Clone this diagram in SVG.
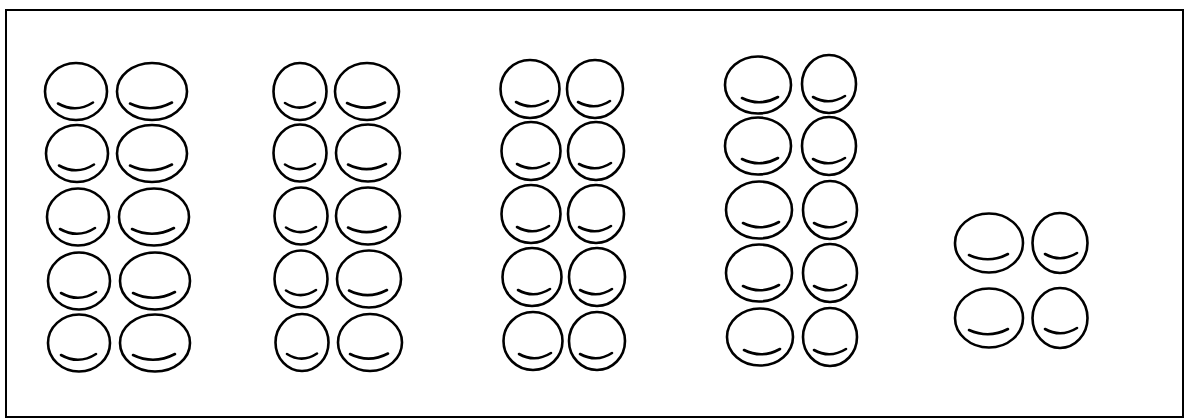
<svg xmlns="http://www.w3.org/2000/svg" width="1185" height="419" viewBox="0 0 1185 419">
<style>
.c{fill:none;stroke:#000;stroke-width:2.6}
.s{fill:none;stroke:#000;stroke-width:2.6;stroke-linecap:round}
</style>
<rect x="0" y="0" width="1185" height="419" fill="#fff"/>
<rect id="frame" x="6" y="10" width="1177" height="407" fill="none" stroke="#000" stroke-width="2"/>
<g id="cluster1">
<g id="n1-1"><ellipse class="c" cx="76" cy="91.5" rx="31" ry="28.5"/><path class="s" d="M58 103.5 Q76 113.5 93 102.5"/></g>
<g id="n1-2"><ellipse class="c" cx="77" cy="153.5" rx="31" ry="28.5"/><path class="s" d="M59 165.5 Q77 175.5 94 164.5"/></g>
<g id="n1-3"><ellipse class="c" cx="78" cy="217" rx="31" ry="28.5"/><path class="s" d="M60 229 Q78 239 95 228"/></g>
<g id="n1-4"><ellipse class="c" cx="79" cy="281" rx="31" ry="28.5"/><path class="s" d="M61 293 Q79 303 96 292"/></g>
<g id="n1-5"><ellipse class="c" cx="79" cy="343" rx="31" ry="28.5"/><path class="s" d="M61 355 Q79 365 96 354"/></g>
<g id="n1-6"><ellipse class="c" cx="152" cy="91.5" rx="35" ry="28.5"/><path class="s" d="M130 103.5 Q151 113.5 172 102.5"/></g>
<g id="n1-7"><ellipse class="c" cx="152" cy="153.5" rx="35" ry="28.5"/><path class="s" d="M130 165.5 Q151 175.5 172 164.5"/></g>
<g id="n1-8"><ellipse class="c" cx="154" cy="217" rx="35" ry="28.5"/><path class="s" d="M132 229 Q153 239 174 228"/></g>
<g id="n1-9"><ellipse class="c" cx="155" cy="281" rx="35" ry="28.5"/><path class="s" d="M133 293 Q154 303 175 292"/></g>
<g id="n1-10"><ellipse class="c" cx="155" cy="343" rx="35" ry="28.5"/><path class="s" d="M133 355 Q154 365 175 354"/></g>
</g>
<g id="cluster2">
<g id="n2-1"><ellipse class="c" cx="300" cy="91.5" rx="26.5" ry="28.5"/><path class="s" d="M285 103 Q300 112.5 315 102.5"/></g>
<g id="n2-2"><ellipse class="c" cx="300" cy="153" rx="26.5" ry="28.5"/><path class="s" d="M285 164.5 Q300 174 315 164"/></g>
<g id="n2-3"><ellipse class="c" cx="301" cy="216" rx="26.5" ry="28.5"/><path class="s" d="M286 227.5 Q301 237 316 227"/></g>
<g id="n2-4"><ellipse class="c" cx="301" cy="279" rx="26.5" ry="28.5"/><path class="s" d="M286 290.5 Q301 300 316 290"/></g>
<g id="n2-5"><ellipse class="c" cx="302" cy="342.5" rx="26.5" ry="28.5"/><path class="s" d="M287 354 Q302 363.5 317 353.5"/></g>
<g id="n2-6"><ellipse class="c" cx="367" cy="91.5" rx="32" ry="28.5"/><path class="s" d="M347 103 Q366 112.5 385 102.5"/></g>
<g id="n2-7"><ellipse class="c" cx="368" cy="153" rx="32" ry="28.5"/><path class="s" d="M348 164.5 Q367 174 386 164"/></g>
<g id="n2-8"><ellipse class="c" cx="368" cy="216" rx="32" ry="28.5"/><path class="s" d="M348 227.5 Q367 237 386 227"/></g>
<g id="n2-9"><ellipse class="c" cx="369" cy="279" rx="32" ry="28.5"/><path class="s" d="M349 290.5 Q368 300 387 290"/></g>
<g id="n2-10"><ellipse class="c" cx="370" cy="342.5" rx="32" ry="28.5"/><path class="s" d="M350 354 Q369 363.5 388 353.5"/></g>
</g>
<g id="cluster3">
<g id="n3-1"><ellipse class="c" cx="530" cy="89" rx="29.5" ry="29"/><path class="s" d="M516 102 Q532 111 548 101"/></g>
<g id="n3-2"><ellipse class="c" cx="531" cy="151" rx="29.5" ry="29"/><path class="s" d="M517 164 Q533 173 549 163"/></g>
<g id="n3-3"><ellipse class="c" cx="531" cy="214" rx="29.5" ry="29"/><path class="s" d="M517 227 Q533 236 549 226"/></g>
<g id="n3-4"><ellipse class="c" cx="532" cy="277" rx="29.5" ry="29"/><path class="s" d="M518 290 Q534 299 550 289"/></g>
<g id="n3-5"><ellipse class="c" cx="533" cy="341" rx="29.5" ry="29"/><path class="s" d="M519 354 Q535 363 551 353"/></g>
<g id="n3-6"><ellipse class="c" cx="595" cy="89" rx="28" ry="29"/><path class="s" d="M578 102 Q595 111 610 101"/></g>
<g id="n3-7"><ellipse class="c" cx="596" cy="151" rx="28" ry="29"/><path class="s" d="M579 164 Q596 173 611 163"/></g>
<g id="n3-8"><ellipse class="c" cx="596" cy="214" rx="28" ry="29"/><path class="s" d="M579 227 Q596 236 611 226"/></g>
<g id="n3-9"><ellipse class="c" cx="597" cy="277" rx="28" ry="29"/><path class="s" d="M580 290 Q597 299 612 289"/></g>
<g id="n3-10"><ellipse class="c" cx="597" cy="341" rx="28" ry="29"/><path class="s" d="M580 354 Q597 363 612 353"/></g>
</g>
<g id="cluster4">
<g id="n4-1"><ellipse class="c" cx="758" cy="85" rx="33" ry="28.5"/><path class="s" d="M742 98 Q760 107 778 97"/></g>
<g id="n4-2"><ellipse class="c" cx="758" cy="146" rx="33" ry="28.5"/><path class="s" d="M742 159 Q760 168 778 158"/></g>
<g id="n4-3"><ellipse class="c" cx="759" cy="210" rx="33" ry="28.5"/><path class="s" d="M743 223 Q761 232 779 222"/></g>
<g id="n4-4"><ellipse class="c" cx="759" cy="273" rx="33" ry="28.5"/><path class="s" d="M743 286 Q761 295 779 285"/></g>
<g id="n4-5"><ellipse class="c" cx="760" cy="337" rx="33" ry="28.5"/><path class="s" d="M744 350 Q762 359 780 349"/></g>
<g id="n4-6"><ellipse class="c" cx="829" cy="84" rx="27" ry="29"/><path class="s" d="M813 97 Q829 106 845 96"/></g>
<g id="n4-7"><ellipse class="c" cx="829" cy="146" rx="27" ry="29"/><path class="s" d="M813 159 Q829 168 845 158"/></g>
<g id="n4-8"><ellipse class="c" cx="830" cy="210" rx="27" ry="29"/><path class="s" d="M814 223 Q830 232 846 222"/></g>
<g id="n4-9"><ellipse class="c" cx="830" cy="273" rx="27" ry="29"/><path class="s" d="M814 286 Q830 295 846 285"/></g>
<g id="n4-10"><ellipse class="c" cx="830" cy="337" rx="27" ry="29"/><path class="s" d="M814 350 Q830 359 846 349"/></g>
</g>
<g id="cluster5">
<g id="n5-1"><ellipse class="c" cx="989" cy="243" rx="34" ry="29.5"/><path class="s" d="M969 255 Q989 264 1008 254"/></g>
<g id="n5-2"><ellipse class="c" cx="989" cy="318" rx="34" ry="29.5"/><path class="s" d="M969 330 Q989 339 1008 329"/></g>
<g id="n5-3"><ellipse class="c" cx="1060" cy="243" rx="27.5" ry="30"/><path class="s" d="M1045 254 Q1061 263 1077 253"/></g>
<g id="n5-4"><ellipse class="c" cx="1060" cy="318" rx="27.5" ry="30"/><path class="s" d="M1045 329 Q1061 338 1077 328"/></g>
</g>
</svg>
